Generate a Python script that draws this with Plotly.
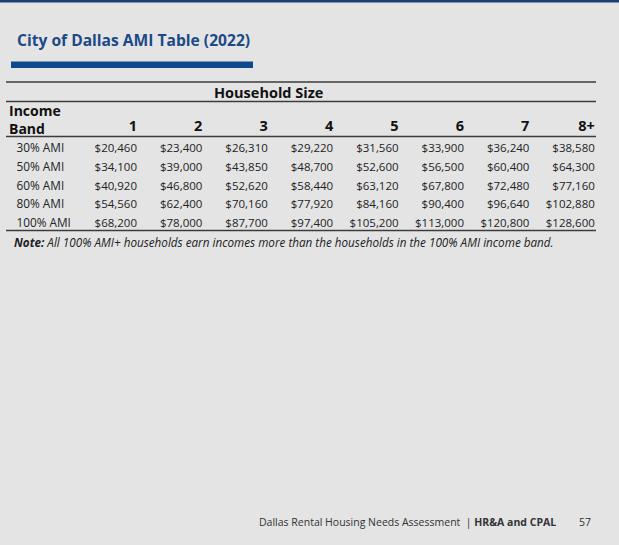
import plotly.graph_objects as go

# table data
income_bands = ["30% AMI", "50% AMI", "60% AMI", "80% AMI", "100% AMI"]
household_sizes = ["1", "2", "3", "4", "5", "6", "7", "8+"]
ami_values = [
    [20460, 23400, 26310, 29220, 31560, 33900, 36240, 38580],
    [34100, 39000, 43850, 48700, 52600, 56500, 60400, 64300],
    [40920, 46800, 52620, 58440, 63120, 67800, 72480, 77160],
    [54560, 62400, 70160, 77920, 84160, 90400, 96640, 102880],
    [68200, 78000, 87700, 97400, 105200, 113000, 120800, 128600],
]

title_text = "City of Dallas AMI Table (2022)"
group_header = "Household Size"
row_header = ["Income", "Band"]
note_text = ("<b>Note:</b> All 100% AMI+ households earn incomes more than "
             "the households in the 100% AMI income band.")
footer_text = "Dallas Rental Housing Needs Assessment  | <b>HR&A and CPAL</b>"
page_no = "57"

W, H = 619, 545
BG = "#e4e4e5"
NAVY = "#1c4a86"
INK = "#222222"
RULE = "#3c3c3c"
FONT = "Open Sans"

# column i (1..8) right edge sits at x0 + dx*i pixels, row r at y0 + dy*r
x0, dx = 71.6, 65.4
y0, dy = 149.5, 18.6

fig = go.Figure()

# value cells
xs, ys, txt = [], [], []
for r, row in enumerate(ami_values):
    for c, v in enumerate(row):
        xs.append(c + 1)
        ys.append(r)
        txt.append(f"${v:,}")
fig.add_trace(go.Scatter(
    x=xs, y=ys, text=txt, mode="text", textposition="middle left",
    textfont=dict(family=FONT, size=11.5, color=INK), hoverinfo="skip",
))

# row labels
label_x = (16.5 - x0) / dx
fig.add_trace(go.Scatter(
    x=[label_x] * len(income_bands), y=list(range(len(income_bands))),
    text=income_bands, mode="text", textposition="middle right",
    textfont=dict(family=FONT, size=11.8, color=INK), hoverinfo="skip",
))

# column headers
fig.add_trace(go.Scatter(
    x=list(range(1, len(household_sizes) + 1)),
    y=[(127.5 - y0) / dy] * len(household_sizes),
    text=[f"<b>{s}</b>" for s in household_sizes], mode="text",
    textposition="middle left",
    textfont=dict(family=FONT, size=14.5, color="#111111"), hoverinfo="skip",
))

def px(v):
    return v / W

def py(v):
    return 1 - v / H

annotations = [
    dict(text=f"<b>{title_text}</b>", x=px(15), y=py(40), xanchor="left",
         font=dict(family=FONT, size=15.6, color=NAVY)),
    dict(text=f"<b>{group_header}</b>", x=px(268), y=py(92),
         font=dict(family=FONT, size=14.5, color="#111111")),
    dict(text=f"<b>{row_header[0]}</b>", x=px(7), y=py(110), xanchor="left",
         font=dict(family=FONT, size=14, color="#111111")),
    dict(text=f"<b>{row_header[1]}</b>", x=px(7), y=py(128), xanchor="left",
         font=dict(family=FONT, size=14, color="#111111")),
    dict(text=f"<i>{note_text}</i>", x=px(12), y=py(242), xanchor="left",
         font=dict(family=FONT, size=11.7, color=INK)),
    dict(text=footer_text, x=px(558), y=py(522), xanchor="right",
         font=dict(family=FONT, size=10.5, color="#333333")),
    dict(text=page_no, x=px(593), y=py(522), xanchor="right",
         font=dict(family=FONT, size=10.5, color="#333333")),
]
for a in annotations:
    a.update(xref="paper", yref="paper", showarrow=False, yanchor="middle")

shapes = [
    # top band
    dict(type="rect", x0=0, x1=1, y0=py(2.5), y1=1, fillcolor="#1d3f70", line_width=0),
    # title underline bar
    dict(type="rect", x0=px(11), x1=px(253), y0=py(68), y1=py(61.5),
         fillcolor="#0d4a8c", line_width=0),
]
for yy in [82, 101.5, 136.5, 230.5]:
    shapes.append(dict(type="line", x0=px(6), x1=px(596), y0=py(yy), y1=py(yy),
                       line=dict(color=RULE, width=1.5)))
for s in shapes:
    s.update(xref="paper", yref="paper", layer="below")

fig.update_layout(
    width=W, height=H, margin=dict(l=0, r=0, t=0, b=0),
    paper_bgcolor=BG, plot_bgcolor=BG, showlegend=False,
    annotations=annotations, shapes=shapes,
    xaxis=dict(range=[-x0 / dx, (W - x0) / dx], visible=False, fixedrange=True),
    yaxis=dict(range=[(H - y0) / dy, -y0 / dy], visible=False, fixedrange=True),
)

fig.write_html(
    "out.html",
    config={"displayModeBar": False},
    post_script="document.body.style.margin='0';document.body.style.overflow='hidden';",
)
